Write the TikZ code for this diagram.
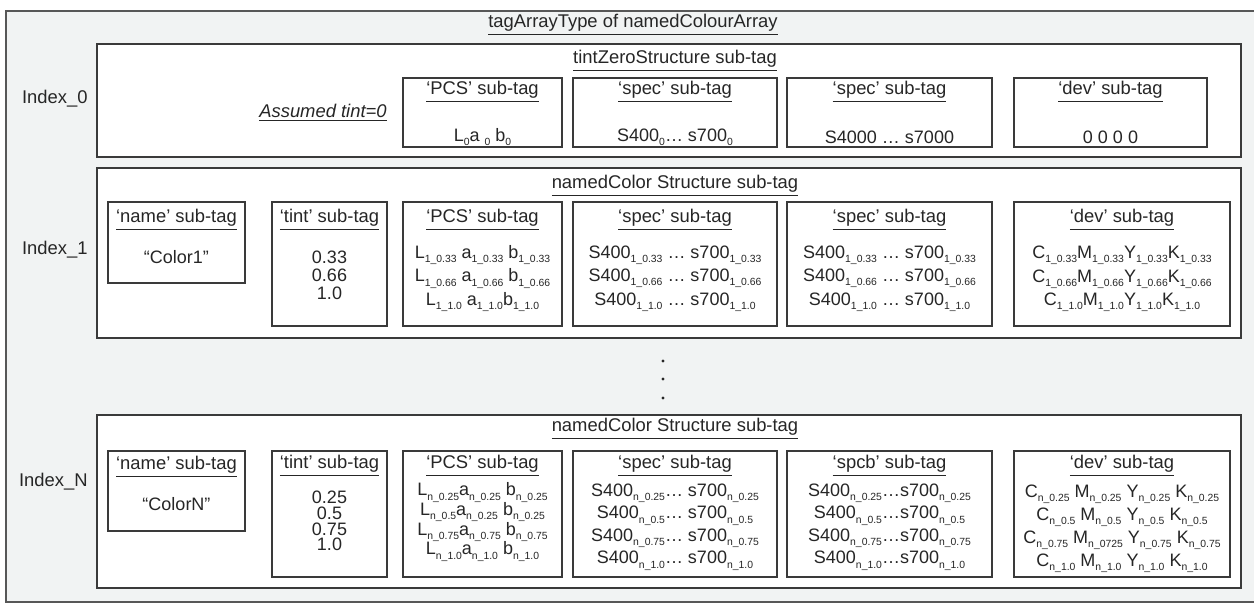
\documentclass[tikz,border=0pt]{standalone}
\usepackage{fontspec}
\setmainfont{Liberation Sans}
\usepackage{xcolor}
\usepackage{tikz}
\usetikzlibrary{positioning,calc}

\definecolor{framegray}{HTML}{F1F3F3}
\definecolor{linegray}{HTML}{3A3A3A}
\definecolor{inkgray}{HTML}{262626}

\newcommand{\lowtxt}[1]{\raisebox{-2.2pt}{\fontsize{5.2}{6}\selectfont #1}}

\begin{document}
\begin{tikzpicture}[x=0.5pt,y=-0.5pt,
                    rowbox/.style={draw=linegray,line width=1pt,fill=white,anchor=north west,inner sep=0pt,outer sep=0pt},
                    tagbox/.style={draw=linegray,line width=1pt,anchor=north west,inner sep=0pt,outer sep=0pt},
                    tagtitle/.style={font=\fontsize{9.2}{10}\selectfont,text=inkgray,inner sep=0pt},
                    tagbody/.style={font=\fontsize{9}{11.75}\selectfont,text=inkgray,align=center,inner sep=0pt},
                    vdot/.style={circle,fill=inkgray,inner sep=0pt,minimum size=1.6pt}]
  \useasboundingbox (0,0) rectangle (1254,606);
  \fill[white] (0,0) rectangle (1254,606);
  \fill[framegray] (6,11) rectangle (1254,602);
  \draw[linegray!85,line width=0.8pt] (1254,11) -- (6,11) -- (6,602) -- (1254,602);

  \node[tagtitle] (main) at (633,25) {\underline{tagArrayType of namedColourArray}};

  % Index 0
  \node[rowbox,minimum width=572pt,minimum height=56.5pt] (row0) at (97,44) {};
  \node[tagtitle] (idx0) [left=4.5pt of row0.west,yshift=1pt] {Index\_0};
  \node[tagtitle] (row0t) at (675,61) {\underline{tintZeroStructure sub-tag}};
  \node[tagtitle,font=\fontsize{9.2}{10}\selectfont\itshape] (tint0) at (323,113) {\underline{Assumed tint=0}};

  \node[tagbox,minimum width=79.5pt,minimum height=34.5pt] (pcs0) at (403,78) {};
  \node[tagbox,minimum width=102pt,minimum height=34.5pt] (speca0) at (573,78) {};
  \node[tagbox,minimum width=102.5pt,minimum height=34.5pt] (specb0) at (787,78) {};
  \node[tagbox,minimum width=96.5pt,minimum height=34.5pt] (dev0) at (1014,78) {};

  \node[tagtitle] (pcs0t) at ([yshift=-7pt]pcs0.north) {\underline{‘PCS’ sub-tag}};
  \node[tagtitle] (speca0t) at ([yshift=-7pt]speca0.north) {\underline{‘spec’ sub-tag}};
  \node[tagtitle] (specb0t) at ([yshift=-7pt]specb0.north) {\underline{‘spec’ sub-tag}};
  \node[tagtitle] (dev0t) at ([yshift=-7pt]dev0.north) {\underline{‘dev’ sub-tag}};

  \node[tagbody] (pcs0b) at ([yshift=-29.5pt]pcs0.north) {L\lowtxt{0}a \lowtxt{0} b\lowtxt{0}};
  \node[tagbody] (speca0b) at ([yshift=-29.5pt]speca0.north) {S400\lowtxt{0}… s700\lowtxt{0}};
  \node[tagbody] (specb0b) at ([yshift=-29.5pt]specb0.north) {S4000 … s7000};
  \node[tagbody] (dev0b) at ([yshift=-29.5pt]dev0.north) {0 0 0 0};

  % Index 1
  \node[rowbox,minimum width=572pt,minimum height=85pt] (row1) at (97,168) {};
  \node[tagtitle] (idx1) [left=4.5pt of row1.west,yshift=1.5pt] {Index\_1};
  \node[tagtitle] (row1t) at (675,186) {\underline{namedColor Structure sub-tag}};

  \node[tagbox,minimum width=68.5pt,minimum height=40.5pt] (name1) at (108,202) {};
  \node[tagbox,minimum width=57.5pt,minimum height=62pt] (tint1) at (272,202) {};
  \node[tagbox,minimum width=79.5pt,minimum height=62pt] (pcs1) at (403,202) {};
  \node[tagbox,minimum width=102pt,minimum height=62pt] (speca1) at (573,202) {};
  \node[tagbox,minimum width=102.5pt,minimum height=62pt] (specb1) at (787,202) {};
  \node[tagbox,minimum width=108pt,minimum height=62pt] (dev1) at (1014,202) {};

  \node[tagtitle] (name1t) at ([yshift=-9pt]name1.north) {\underline{‘name’ sub-tag}};
  \node[tagtitle] (tint1t) at ([yshift=-9pt]tint1.north) {\underline{‘tint’ sub-tag}};
  \node[tagtitle] (pcs1t) at ([yshift=-9pt]pcs1.north) {\underline{‘PCS’ sub-tag}};
  \node[tagtitle] (speca1t) at ([yshift=-9pt]speca1.north) {\underline{‘spec’ sub-tag}};
  \node[tagtitle] (specb1t) at ([yshift=-9pt]specb1.north) {\underline{‘spec’ sub-tag}};
  \node[tagtitle] (dev1t) at ([yshift=-9pt]dev1.north) {\underline{‘dev’ sub-tag}};

  \node[tagbody] (name1b) at ([yshift=-27.5pt]name1.north) {“Color1”};
  \node[tagbody,font=\fontsize{9}{9}\selectfont] (tint1b) at ([yshift=-36.5pt]tint1.north) {0.33\\0.66\\1.0};
  \node[tagbody] (pcs1b) at ([yshift=-38.25pt]pcs1.north)
    {L\lowtxt{1\_0.33} a\lowtxt{1\_0.33} b\lowtxt{1\_0.33}\\
     L\lowtxt{1\_0.66} a\lowtxt{1\_0.66} b\lowtxt{1\_0.66}\\
     L\lowtxt{1\_1.0} a\lowtxt{1\_1.0}b\lowtxt{1\_1.0}};
  \node[tagbody] (speca1b) at ([yshift=-38.25pt]speca1.north)
    {S400\lowtxt{1\_0.33} … s700\lowtxt{1\_0.33}\\
     S400\lowtxt{1\_0.66} … s700\lowtxt{1\_0.66}\\
     S400\lowtxt{1\_1.0} … s700\lowtxt{1\_1.0}};
  \node[tagbody] (specb1b) at ([yshift=-38.25pt]specb1.north)
    {S400\lowtxt{1\_0.33} … s700\lowtxt{1\_0.33}\\
     S400\lowtxt{1\_0.66} … s700\lowtxt{1\_0.66}\\
     S400\lowtxt{1\_1.0} … s700\lowtxt{1\_1.0}};
  \node[tagbody] (dev1b) at ([yshift=-38.5pt]dev1.north)
    {C\lowtxt{1\_0.33}M\lowtxt{1\_0.33}Y\lowtxt{1\_0.33}K\lowtxt{1\_0.33}\\
     C\lowtxt{1\_0.66}M\lowtxt{1\_0.66}Y\lowtxt{1\_0.66}K\lowtxt{1\_0.66}\\
     C\lowtxt{1\_1.0}M\lowtxt{1\_1.0}Y\lowtxt{1\_1.0}K\lowtxt{1\_1.0}};

  % the rows in between
  \node[vdot] (dot1) at (663,361) {};
  \node[vdot] (dot2) [below=9pt of dot1.center,anchor=center] {};
  \node[vdot] (dot3) [below=9.5pt of dot2.center,anchor=center] {};

  % Index N
  \node[rowbox,minimum width=572pt,minimum height=86.5pt] (rowN) at (97,415) {};
  \node[tagtitle] (idxN) [left=4.5pt of rowN.west,yshift=9.75pt] {Index\_N};
  \node[tagtitle] (rowNt) at (675,429) {\underline{namedColor Structure sub-tag}};

  \node[tagbox,minimum width=68.5pt,minimum height=40pt] (nameN) at (108,451) {};
  \node[tagbox,minimum width=57.5pt,minimum height=63pt] (tintN) at (272,451) {};
  \node[tagbox,minimum width=79.5pt,minimum height=63pt] (pcsN) at (403,451) {};
  \node[tagbox,minimum width=102pt,minimum height=63pt] (specaN) at (573,451) {};
  \node[tagbox,minimum width=102.5pt,minimum height=63pt] (specbN) at (787,451) {};
  \node[tagbox,minimum width=108pt,minimum height=63pt] (devN) at (1014,451) {};

  \node[tagtitle] (nameNt) at ([yshift=-8pt]nameN.north) {\underline{‘name’ sub-tag}};
  \node[tagtitle] (tintNt) at ([yshift=-7.5pt]tintN.north) {\underline{‘tint’ sub-tag}};
  \node[tagtitle] (pcsNt) at ([yshift=-7.5pt]pcsN.north) {\underline{‘PCS’ sub-tag}};
  \node[tagtitle] (specaNt) at ([yshift=-7.5pt]specaN.north) {\underline{‘spec’ sub-tag}};
  \node[tagtitle] (specbNt) at ([yshift=-7.5pt]specbN.north) {\underline{‘spcb’ sub-tag}};
  \node[tagtitle] (devNt) at ([yshift=-7.5pt]devN.north) {\underline{‘dev’ sub-tag}};

  \node[tagbody] (nameNb) at ([yshift=-26.5pt]nameN.north) {“ColorN”};
  \node[tagbody,font=\fontsize{9}{7.9}\selectfont] (tintNb) at ([yshift=-35pt]tintN.north) {0.25\\0.5\\0.75\\1.0};
  \node[tagbody,font=\fontsize{9}{9.8}\selectfont] (pcsNb) at ([yshift=-35.5pt]pcsN.north)
    {L\lowtxt{n\_0.25}a\lowtxt{n\_0.25} b\lowtxt{n\_0.25}\\
     L\lowtxt{n\_0.5}a\lowtxt{n\_0.25} b\lowtxt{n\_0.25}\\
     L\lowtxt{n\_0.75}a\lowtxt{n\_0.75} b\lowtxt{n\_0.75}\\
     L\lowtxt{n\_1.0}a\lowtxt{n\_1.0} b\lowtxt{n\_1.0}};
  \node[tagbody,font=\fontsize{9}{11.25}\selectfont] (specaNb) at ([yshift=-38pt]specaN.north)
    {S400\lowtxt{n\_0.25}… s700\lowtxt{n\_0.25}\\
     S400\lowtxt{n\_0.5}… s700\lowtxt{n\_0.5}\\
     S400\lowtxt{n\_0.75}… s700\lowtxt{n\_0.75}\\
     S400\lowtxt{n\_1.0}… s700\lowtxt{n\_1.0}};
  \node[tagbody,font=\fontsize{9}{11.25}\selectfont] (specbNb) at ([yshift=-38pt]specbN.north)
    {S400\lowtxt{n\_0.25}…s700\lowtxt{n\_0.25}\\
     S400\lowtxt{n\_0.5}…s700\lowtxt{n\_0.5}\\
     S400\lowtxt{n\_0.75}…s700\lowtxt{n\_0.75}\\
     S400\lowtxt{n\_1.0}…s700\lowtxt{n\_1.0}};
  \node[tagbody,font=\fontsize{9}{11.5}\selectfont] (devNb) at ([yshift=-39pt]devN.north)
    {C\lowtxt{n\_0.25} M\lowtxt{n\_0.25} Y\lowtxt{n\_0.25} K\lowtxt{n\_0.25}\\
     C\lowtxt{n\_0.5} M\lowtxt{n\_0.5} Y\lowtxt{n\_0.5} K\lowtxt{n\_0.5}\\
     C\lowtxt{n\_0.75} M\lowtxt{n\_0725} Y\lowtxt{n\_0.75} K\lowtxt{n\_0.75}\\
     C\lowtxt{n\_1.0} M\lowtxt{n\_1.0} Y\lowtxt{n\_1.0} K\lowtxt{n\_1.0}};
\end{tikzpicture}
\end{document}
